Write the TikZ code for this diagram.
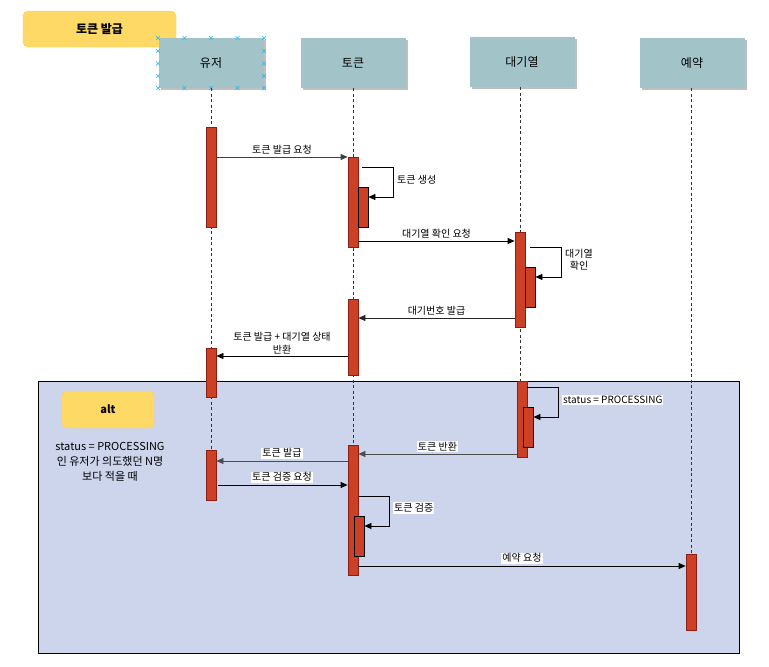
\documentclass[tikz,border=0pt]{standalone}
\usepackage{fontspec}
\setmainfont{Noto Sans CJK KR}
\usetikzlibrary{arrows.meta,shadows}

\definecolor{actfill}{HTML}{CC4125}
\definecolor{actline}{HTML}{8B1D12}
\definecolor{headfill}{HTML}{A2C4C9}
\definecolor{noteyel}{HTML}{FFD966}
\definecolor{altfill}{HTML}{CDD5EC}
\definecolor{selblue}{HTML}{29B6F2}
\definecolor{lifegray}{HTML}{333333}

\tikzset{
  head/.style={fill=headfill, minimum width=105pt, minimum height=50pt, inner sep=0pt,
    font=\fontsize{12}{14}\selectfont,
    drop shadow={shadow xshift=2pt, shadow yshift=-2pt, opacity=0.25, fill=black}},
  lifeline/.style={draw=lifegray, line width=0.8pt, dash pattern=on 3pt off 2.5pt},
  act/.style={draw=actline, fill=actfill, minimum width=10pt, inner sep=0pt, line width=0.8pt, anchor=north},
  subact/.style={act, draw=black},
  msg/.style={draw=black, line width=0.8pt, -{Triangle[length=7pt,width=6pt]}},
  selfmsg/.style={msg, rounded corners=0pt},
  lbl/.style={font=\fontsize{10}{12}\selectfont, inner sep=1pt},
  wlbl/.style={lbl, fill=white},
  notebox/.style={fill=noteyel, draw=noteyel!85!orange, rounded corners=5pt, inner sep=0pt,
    font=\bfseries\fontsize{12}{14}\selectfont},
  selmark/.style={draw=selblue, line width=0.7pt},
}

\begin{document}
\begin{tikzpicture}[x=1pt,y=-1pt]
\useasboundingbox[fill=white] (0,0) rectangle (769,667);

% alt combined fragment
\node[draw=black, fill=altfill, line width=0.8pt, minimum width=701pt, minimum height=272pt,
      inner sep=0pt] (altframe) at (388.5,517) {};
\node[notebox, minimum width=92pt, minimum height=37pt, font=\bfseries\fontsize{11}{13}\selectfont]
      (altlabel) at (108,409.5) {alt};
\node[lbl, align=center, font=\fontsize{11}{15}\selectfont] (altcond) at (110,462)
      {status = PROCESSING\\인 유저가 의도했던 N명\\보다 적을 때};

% title
\node[notebox, minimum width=153pt, minimum height=36pt] (title) at (99.5,29) {토큰 발급};

% participants
\node[head] (huser)  at (211,63)   {유저};
\node[head] (htoken) at (353,63)   {토큰};
\node[head] (hqueue) at (522,62)   {대기열};
\node[head] (hresv)  at (692,63)   {예약};

% selection handles on the first participant
\foreach \px in {158,184.5,211,237.5,264}{
  \foreach \py in {38,88}{
    \draw[selmark] (\px-2,\py-2) -- (\px+2,\py+2) (\px-2,\py+2) -- (\px+2,\py-2);
  }
}
\foreach \py in {51,63.5,76}{
  \foreach \px in {158,264}{
    \draw[selmark] (\px-2,\py-2) -- (\px+2,\py+2) (\px-2,\py+2) -- (\px+2,\py-2);
  }
}

% lifeline ends
\coordinate (euser)  at (211,500);
\coordinate (etoken) at (353,575);
\coordinate (equeue) at (520,457);
\coordinate (eresv)  at (691,554);

\draw[lifeline] (huser.south)  -- (euser);
\draw[lifeline] (htoken.south) -- (etoken);
\draw[lifeline] (hqueue.south -| equeue) -- (equeue);
\draw[lifeline] (hresv.south -| eresv) -- (eresv);

% activations
\node[act, minimum height=100pt] (ua1) at (211,127) {};
\node[act, minimum height=49pt]  (ua2) at (211,348) {};
\node[act, minimum height=50pt]  (ua3) at (211,450) {};

\node[act, minimum height=90pt]  (ta1) at (353,157) {};
\node[subact, minimum height=40pt] (ts1) at (363,187) {};
\node[act, minimum height=76pt]  (ta2) at (353,299) {};
\node[act, minimum height=130pt] (ta3) at (353,445) {};
\node[subact, minimum height=40pt] (ts3) at (359,516) {};

\node[act, minimum height=95pt]  (qa1) at (520,232) {};
\node[subact, minimum height=40pt] (qs1) at (530,267) {};
\node[act, minimum height=76pt]  (qa2) at (522,381) {};
\node[subact, minimum height=40pt] (qs2) at (528,407) {};

\node[act, minimum height=76pt]  (ra1) at (691,554) {};

% messages before the fragment
\draw[msg, draw=black!75] (ua1.east |- 0,157) -- node[lbl, above=1pt] (m1) {토큰 발급 요청} (ta1.west |- 0,157);
\draw[selfmsg, shorten <=4pt] (ta1.east |- 0,167) -- (393,167) -- (393,197) -- (ts1.east |- 0,197);
\node[lbl, anchor=west] (l1) at (396,180) {토큰 생성};

\draw[msg] (ta1.east |- 0,241) -- node[lbl, above=1pt] (m2) {대기열 확인 요청} (qa1.west |- 0,241);
\draw[selfmsg, shorten <=5pt] (qa1.east |- 0,247) -- (561,247) -- (561,277) -- (qs1.east |- 0,277);
\node[lbl, align=center, anchor=west] (l2) at (564,260) {대기열\\확인};

\draw[msg, draw=black!85] (qa1.west |- 0,318) -- node[lbl, above=1pt] (m3) {대기번호 발급} (ta2.east |- 0,318);
\draw[msg] (ta2.west |- 0,356) -- node[lbl, above=1pt, align=center, font=\fontsize{10}{13}\selectfont] (m4)
      {토큰 발급 + 대기열 상태\\반환} (ua2.east |- 0,356);

% messages inside the fragment
\draw[selfmsg] (qa2.east |- 0,387) -- (558,387) -- (558,417) -- (qs2.east |- 0,417);
\node[wlbl, anchor=west] (l3) at (562,400) {status = PROCESSING};

\draw[msg, draw=black!70] (qa2.west |- 0,454) -- node[wlbl, above=2pt] (m5) {토큰 반환} (ta3.east |- 0,454);
\draw[msg, draw=black!70] (ta3.west |- 0,461) -- node[wlbl, above=2pt] (m6) {토큰 발급} (ua3.east |- 0,461);
\draw[msg, shorten <=2pt] (ua3.east |- 0,485) -- node[wlbl, above=2pt] (m7) {토큰 검증 요청} (ta3.west |- 0,485);

\draw[selfmsg, shorten <=1pt] (ta3.east |- 0,496) -- (389,496) -- (389,526) -- (ts3.east |- 0,526);
\node[wlbl, anchor=west] (l4) at (393,508) {토큰 검증};

\draw[msg] (ta3.east |- 0,566) -- node[wlbl, above=2pt] (m8) {예약 요청} (ra1.west |- 0,566);

\end{tikzpicture}
\end{document}
